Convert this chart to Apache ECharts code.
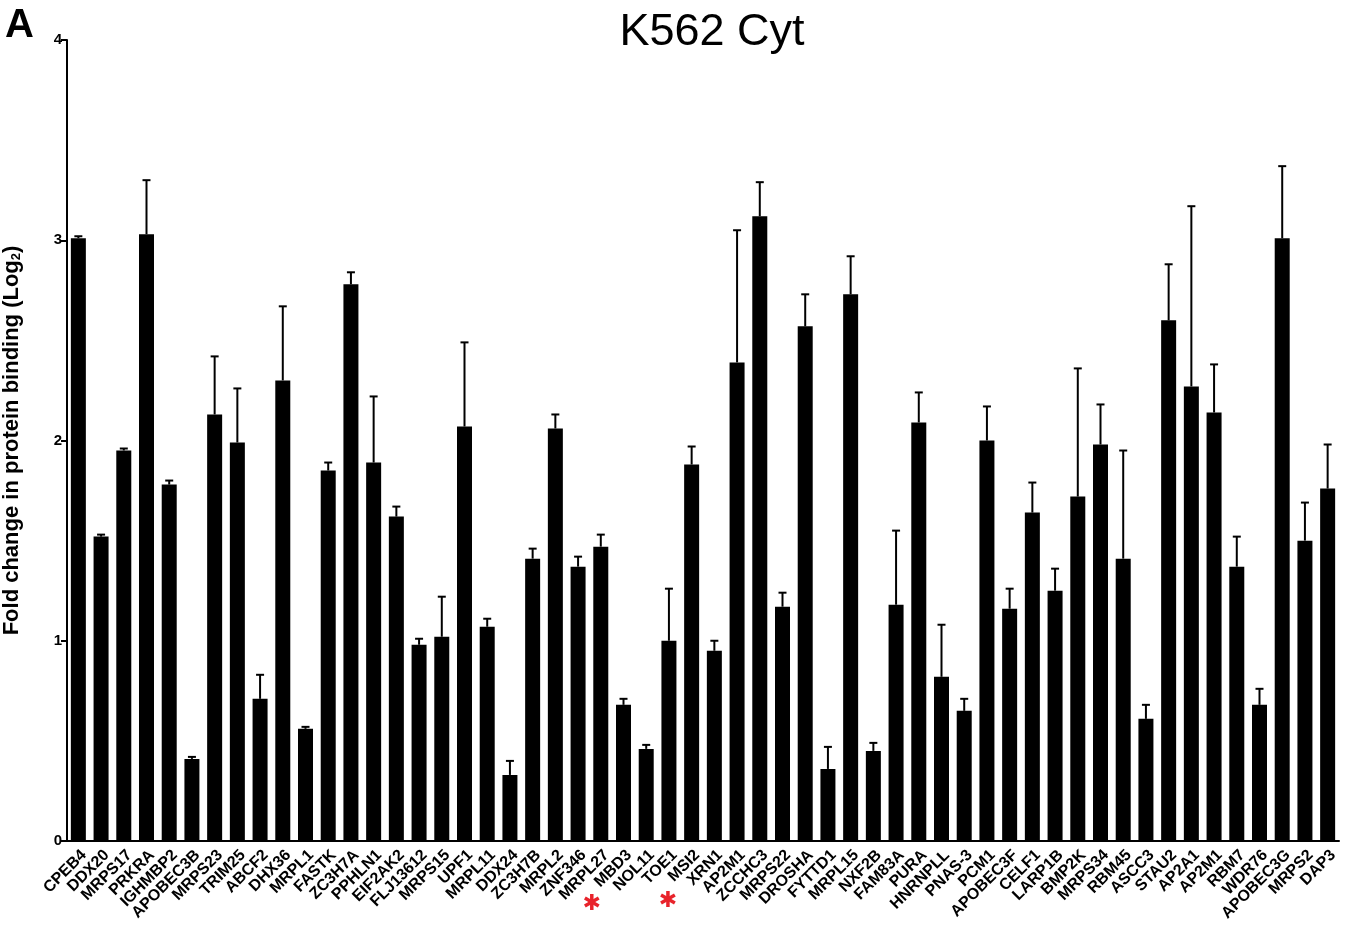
<!DOCTYPE html>
<html>
<head>
<meta charset="utf-8">
<title>K562 Cyt</title>
<script src="https://cdn.jsdelivr.net/npm/echarts@6/dist/echarts.min.js"></script>
<style>
  html, body { margin: 0; padding: 0; background: #fff; }
  #chart { width: 1358px; height: 929px; }
</style>
</head>
<body>
<div id="chart"></div>
<script>
// proteins on the x axis, in plotted order
const proteins = [
  'CPEB4', 'DDX20', 'MRPS17', 'PRKRA', 'IGHMBP2', 'APOBEC3B', 'MRPS23', 'TRIM25',
  'ABCF2', 'DHX36', 'MRPL1', 'FASTK', 'ZC3H7A', 'PPHLN1', 'EIF2AK2', 'FLJ13612',
  'MRPS15', 'UPF1', 'MRPL11', 'DDX24', 'ZC3H7B', 'MRPL2', 'ZNF346', 'MRPL27',
  'MBD3', 'NOL11', 'TOE1', 'MSI2', 'XRN1', 'AP2M1', 'ZCCHC3', 'MRPS22',
  'DROSHA', 'FYTTD1', 'MRPL15', 'NXF2B', 'FAM83A', 'PURA', 'HNRNPLL', 'PNAS-3',
  'PCM1', 'APOBEC3F', 'CELF1', 'LARP1B', 'BMP2K', 'MRPS34', 'RBM45', 'ASCC3',
  'STAU2', 'AP2A1', 'AP2M1', 'RBM7', 'WDR76', 'APOBEC3G', 'MRPS2', 'DAP3'
]

// mean fold change (log2)
const foldChange = [
  3.01, 1.52, 1.95, 3.03, 1.78, 0.41, 2.13, 1.99,
  0.71, 2.30, 0.56, 1.85, 2.78, 1.89, 1.62, 0.98,
  1.02, 2.07, 1.07, 0.33, 1.41, 2.06, 1.37, 1.47,
  0.68, 0.46, 1.00, 1.88, 0.95, 2.39, 3.12, 1.17,
  2.57, 0.36, 2.73, 0.45, 1.18, 2.09, 0.82, 0.65,
  2.00, 1.16, 1.64, 1.25, 1.72, 1.98, 1.41, 0.61,
  2.60, 2.27, 2.14, 1.37, 0.68, 3.01, 1.50, 1.76
]

// upper error (SD)
const errUp = [
  0.01, 0.01, 0.01, 0.27, 0.02, 0.01, 0.29, 0.27,
  0.12, 0.37, 0.01, 0.04, 0.06, 0.33, 0.05, 0.03,
  0.20, 0.42, 0.04, 0.07, 0.05, 0.07, 0.05, 0.06,
  0.03, 0.02, 0.26, 0.09, 0.05, 0.66, 0.17, 0.07,
  0.16, 0.11, 0.19, 0.04, 0.37, 0.15, 0.26, 0.06,
  0.17, 0.10, 0.15, 0.11, 0.64, 0.20, 0.54, 0.07,
  0.28, 0.90, 0.24, 0.15, 0.08, 0.36, 0.19, 0.22
]

// indices of proteins flagged with a red asterisk (MRPL27, TOE1)
const flagged = [23, 26]

const yTicks = [0, 1, 2, 3, 4]

const font = 'Arial, "Liberation Sans", Helvetica, sans-serif'
const chart = echarts.init(document.getElementById('chart'))

const option = {
  animation: false,
  backgroundColor: '#fff',
  title: [
    {
      text: 'K562 Cyt',
      left: 707,
      top: 5,
      textAlign: 'center',
      textStyle: { fontFamily: font, fontSize: 45, fontWeight: 'normal', color: '#000' }
    },
    {
      text: 'A',
      left: 0,
      top: 1,
      textStyle: { fontFamily: font, fontSize: 40, fontWeight: 'bold', color: '#000' }
    }
  ],
  grid: { left: 67, right: 19, top: 40, bottom: 88, containLabel: false, outerBoundsMode: 'none' },
  xAxis: {
    type: 'category',
    data: proteins,
    axisLine: { lineStyle: { color: '#000', width: 2 } },
    axisTick: { alignWithLabel: true, length: 6, lineStyle: { color: '#000', width: 2 } },
    axisLabel: {
      rotate: 45,
      interval: 0,
      margin: 6,
      verticalAlign: 'top',
      fontFamily: font,
      fontSize: 16,
      fontWeight: 'bold',
      color: '#000'
    }
  },
  yAxis: {
    type: 'value',
    min: yTicks[0],
    max: yTicks[yTicks.length - 1],
    interval: 1,
    splitLine: { show: false },
    axisLine: { show: true, lineStyle: { color: '#000', width: 2 } },
    axisTick: { show: true, length: 6, lineStyle: { color: '#000', width: 2 } },
    axisLabel: {
      margin: 5,
      formatter: '{t|{value}}',
      rich: { t: { fontFamily: font, fontSize: 15, fontWeight: 'bold', color: '#000' } }
    },
    name: 'Fold change in protein binding (Log{sub|2})',
    nameLocation: 'middle',
    nameGap: 44,
    nameTextStyle: {
      fontFamily: font,
      fontSize: 22,
      fontWeight: 'bold',
      color: '#000',
      rich: {
        sub: { fontFamily: font, fontSize: 13, fontWeight: 'bold', color: '#000', verticalAlign: 'bottom', padding: [10, 0, 0, 0] }
      }
    }
  },
  series: [
    {
      type: 'bar',
      data: foldChange,
      barWidth: 15,
      itemStyle: { color: '#000' }
    },
    {
      type: 'custom',
      data: foldChange.map((v, i) => [i, v, v + errUp[i]]),
      z: 3,
      renderItem: function (params, api) {
        const base = api.coord([api.value(0), api.value(1)])
        const top = api.coord([api.value(0), api.value(2)])
        const half = 4
        const style = { stroke: '#000', lineWidth: 2 }
        return {
          type: 'group',
          children: [
            { type: 'line', shape: { x1: base[0], y1: base[1], x2: top[0], y2: top[1] }, style },
            { type: 'line', shape: { x1: top[0] - half, y1: top[1], x2: top[0] + half, y2: top[1] }, style }
          ]
        }
      }
    }
  ]
}

chart.setOption(option)

// red asterisks under the flagged labels
const nudge = [-9, -1]
const star = []
flagged.forEach((idx, k) => {
  const x = chart.convertToPixel({ xAxisIndex: 0 }, idx) + nudge[k]
  const y = chart.convertToPixel({ yAxisIndex: 0 }, 0) + 61 - k * 3
  const arms = []
  for (let a = 0; a < 3; a++) {
    const ang = Math.PI / 2 + a * Math.PI / 3
    const r = 8
    arms.push({
      type: 'line',
      shape: {
        x1: x - r * Math.cos(ang), y1: y - r * Math.sin(ang),
        x2: x + r * Math.cos(ang), y2: y + r * Math.sin(ang)
      },
      style: { stroke: '#e8232b', lineWidth: 3.5 }
    })
  }
  star.push({ type: 'group', children: arms })
})
chart.setOption({ graphic: star })
</script>
</body>
</html>
